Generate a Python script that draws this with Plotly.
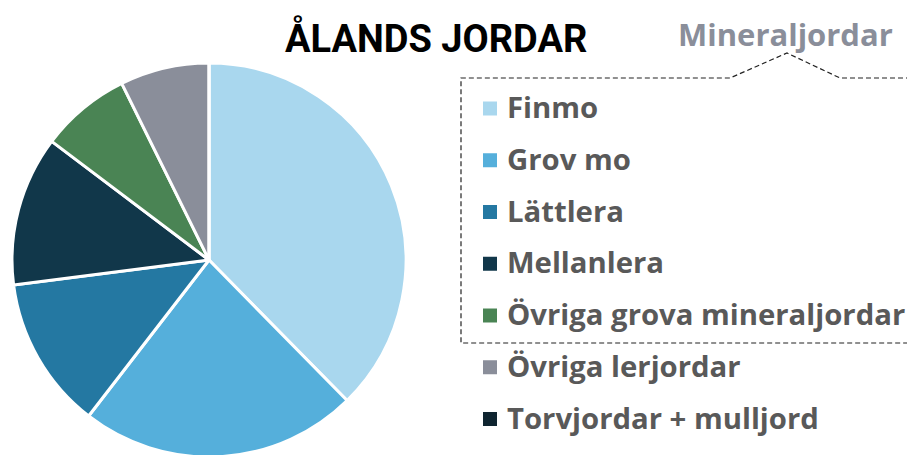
import plotly.graph_objects as go

labels = ["Finmo", "Grov mo", "Lättlera", "Mellanlera",
          "Övriga grova mineraljordar", "Övriga lerjordar", "Torvjordar + mulljord"]
values = [37.6, 22.8, 12.5, 12.3, 7.4, 7.3, 0.0]
colors = ["#a9d7ee", "#55afdb", "#2478a2", "#11374a", "#4a8454", "#8a8e9a", "#0f2530"]
title_text = "ÅLANDS JORDAR"
group_label = "Mineraljordar"

W, H = 915, 455
OX, OY = 8, 8  # page body margin


def px(x):
    return (x - OX) / W


def py(y):
    return 1 - (y - OY) / H


fig = go.Figure()
cx, cy, r = 209, 260, 197
fig.add_trace(go.Pie(
    labels=labels, values=values, sort=False, direction="clockwise", rotation=0,
    marker=dict(colors=colors, line=dict(color="white", width=3)),
    textinfo="none", hoverinfo="label+percent", showlegend=False,
    domain=dict(x=[px(cx - r), px(cx + r)], y=[py(cy + r), py(cy - r)]),
))

shapes = []
annotations = []
legend_font = dict(family="Open Sans, Noto Sans, sans-serif", size=29.3, color="#595959", weight=700)
y0 = 107
step = 51.75
for i, (lab, col) in enumerate(zip(labels, colors)):
    yc = y0 + i * step
    shapes.append(dict(type="rect", xref="paper", yref="paper",
                       x0=px(483), x1=px(497), y0=py(yc - 5.5), y1=py(yc + 8.5),
                       fillcolor=col, line=dict(width=0)))
    annotations.append(dict(text=lab, xref="paper", yref="paper",
                            x=px(505), y=py(yc), xanchor="left", yanchor="middle",
                            showarrow=False, font=legend_font))

# dashed group box
dash = dict(color="#222222", width=1.2, dash="5px,3px")
box_pts = [(935, 78), (840, 78), (787, 53), (730, 78), (461, 78), (461, 343), (935, 343)]
path = "M " + " L ".join("%f,%f" % (px(x), py(y)) for x, y in box_pts)
shapes.append(dict(type="path", xref="paper", yref="paper", path=path, line=dash))

annotations.append(dict(text=group_label, xref="paper", yref="paper",
                        x=px(785), y=py(34), xanchor="center", yanchor="middle",
                        showarrow=False,
                        font=dict(family="Open Sans, Noto Sans, sans-serif", size=31,
                                  color="#8a8e9a", weight=700)))
annotations.append(dict(text="<b>%s</b>" % title_text, xref="paper", yref="paper",
                        x=px(436), y=py(38), xanchor="center", yanchor="middle",
                        showarrow=False,
                        font=dict(family="Roboto, sans-serif", size=38, color="#000000")))

fig.update_layout(width=W, height=H, margin=dict(l=0, r=0, t=0, b=0),
                  paper_bgcolor="white", plot_bgcolor="white",
                  shapes=shapes, annotations=annotations)
fig.write_html("out.html")
